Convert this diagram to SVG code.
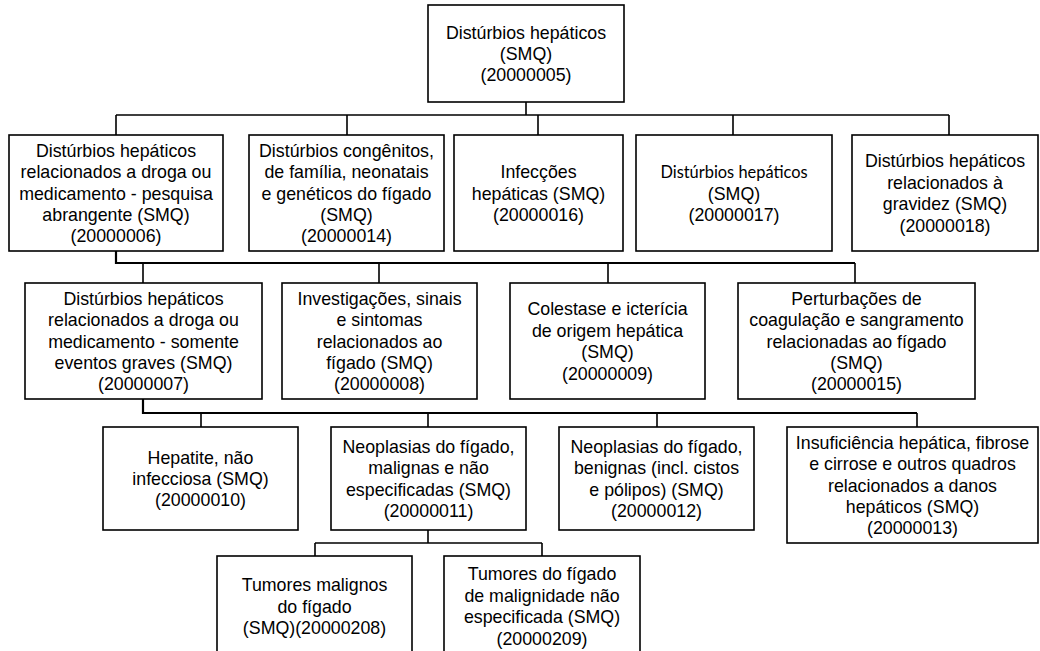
<svg xmlns="http://www.w3.org/2000/svg" width="1040" height="651" viewBox="0 0 1040 651">
  <style>
    .box { fill: #fff; stroke: #000; stroke-width: 1.6; }
    .lbl { font-family: "Liberation Sans", Arial, sans-serif; font-size: 17.8px; fill: #000; text-anchor: middle; }
    .alt { font-family: Lato, "Open Sans", sans-serif; font-size: 16.4px; }
    .wire { fill: none; stroke: #000; stroke-width: 1.6; }
    .trunk { fill: none; stroke: #000; stroke-width: 2.2; }
  </style>
  <rect width="1040" height="651" fill="#fff"/>

  <!-- connectors -->
  <g id="connectors">
    <path class="wire" d="M526 102V115M116 115H949M116 115V135M347 115V135M538 115V135M733 115V135M949 115V135"/>
    <path class="trunk" d="M116 251V263H855"/>
    <path class="wire" d="M143 263V283M379 263V283M608 263V283M855 263V283"/>
    <path class="trunk" d="M143 399V413H917"/>
    <path class="wire" d="M201 413V427M428 413V427M657 413V427M917 413V427"/>
    <path class="wire" d="M428 530V543M315 543H542M315 543V556M542 543V556"/>
  </g>

  <!-- root -->
  <g id="n20000005">
    <rect class="box" x="428" y="5" width="196" height="97"/>
    <text class="lbl"><tspan x="526" y="38.6">Distúrbios hepáticos</tspan><tspan x="526" y="60">(SMQ)</tspan><tspan x="526" y="81.4">(20000005)</tspan></text>
  </g>

  <!-- first level -->
  <g id="n20000006">
    <rect class="box" x="9" y="135" width="214" height="116"/>
    <text class="lbl"><tspan x="116" y="156.7">Distúrbios hepáticos</tspan><tspan x="116" y="178.1">relacionados a droga ou</tspan><tspan x="116" y="199.5">medicamento - pesquisa</tspan><tspan x="116" y="220.9">abrangente (SMQ)</tspan><tspan x="116" y="242.3">(20000006)</tspan></text>
  </g>
  <g id="n20000014">
    <rect class="box" x="249" y="135" width="195" height="116"/>
    <text class="lbl"><tspan x="346.5" y="156.7">Distúrbios congênitos,</tspan><tspan x="346.5" y="178.1">de família, neonatais</tspan><tspan x="346.5" y="199.5">e genéticos do fígado</tspan><tspan x="346.5" y="220.9">(SMQ)</tspan><tspan x="346.5" y="242.3">(20000014)</tspan></text>
  </g>
  <g id="n20000016">
    <rect class="box" x="454" y="135" width="169" height="116"/>
    <text class="lbl"><tspan x="538.5" y="178.1">Infecções</tspan><tspan x="538.5" y="199.5">hepáticas (SMQ)</tspan><tspan x="538.5" y="220.9">(20000016)</tspan></text>
  </g>
  <g id="n20000017">
    <rect class="box" x="636" y="135" width="196" height="116"/>
    <text class="lbl"><tspan class="alt" x="734" y="178.1">Distúrbios hepáticos</tspan><tspan x="734" y="199.5">(SMQ)</tspan><tspan x="734" y="220.9">(20000017)</tspan></text>
  </g>
  <g id="n20000018">
    <rect class="box" x="852" y="135" width="186" height="116"/>
    <text class="lbl"><tspan x="945" y="167.4">Distúrbios hepáticos</tspan><tspan x="945" y="188.8">relacionados à</tspan><tspan x="945" y="210.2">gravidez (SMQ)</tspan><tspan x="945" y="231.6">(20000018)</tspan></text>
  </g>

  <!-- second level -->
  <g id="n20000007">
    <rect class="box" x="25" y="283" width="237" height="116"/>
    <text class="lbl"><tspan x="143.5" y="304.7">Distúrbios hepáticos</tspan><tspan x="143.5" y="326.1">relacionados a droga ou</tspan><tspan x="143.5" y="347.5">medicamento - somente</tspan><tspan x="143.5" y="368.9">eventos graves (SMQ)</tspan><tspan x="143.5" y="390.3">(20000007)</tspan></text>
  </g>
  <g id="n20000008">
    <rect class="box" x="282" y="283" width="195" height="116"/>
    <text class="lbl"><tspan x="379.5" y="304.7">Investigações, sinais</tspan><tspan x="379.5" y="326.1">e sintomas</tspan><tspan x="379.5" y="347.5">relacionados ao</tspan><tspan x="379.5" y="368.9">fígado (SMQ)</tspan><tspan x="379.5" y="390.3">(20000008)</tspan></text>
  </g>
  <g id="n20000009">
    <rect class="box" x="510" y="283" width="195" height="116"/>
    <text class="lbl"><tspan x="607.5" y="315.4">Colestase e icterícia</tspan><tspan x="607.5" y="336.8">de origem hepática</tspan><tspan x="607.5" y="358.2">(SMQ)</tspan><tspan x="607.5" y="379.6">(20000009)</tspan></text>
  </g>
  <g id="n20000015">
    <rect class="box" x="738" y="283" width="237" height="116"/>
    <text class="lbl"><tspan x="856.5" y="304.7">Perturbações de</tspan><tspan x="856.5" y="326.1">coagulação e sangramento</tspan><tspan x="856.5" y="347.5">relacionadas ao fígado</tspan><tspan x="856.5" y="368.9">(SMQ)</tspan><tspan x="856.5" y="390.3">(20000015)</tspan></text>
  </g>

  <!-- third level -->
  <g id="n20000010">
    <rect class="box" x="103" y="427" width="195" height="103"/>
    <text class="lbl"><tspan x="200.5" y="463.6">Hepatite, não</tspan><tspan x="200.5" y="485">infecciosa (SMQ)</tspan><tspan x="200.5" y="506.4">(20000010)</tspan></text>
  </g>
  <g id="n20000011">
    <rect class="box" x="331" y="427" width="195" height="103"/>
    <text class="lbl"><tspan x="428.5" y="452.9">Neoplasias do fígado,</tspan><tspan x="428.5" y="474.3">malignas e não</tspan><tspan x="428.5" y="495.7">especificadas (SMQ)</tspan><tspan x="428.5" y="517.1">(20000011)</tspan></text>
  </g>
  <g id="n20000012">
    <rect class="box" x="559" y="427" width="195" height="103"/>
    <text class="lbl"><tspan x="656.5" y="452.9">Neoplasias do fígado,</tspan><tspan x="656.5" y="474.3">benignas (incl. cistos</tspan><tspan x="656.5" y="495.7">e pólipos) (SMQ)</tspan><tspan x="656.5" y="517.1">(20000012)</tspan></text>
  </g>
  <g id="n20000013">
    <rect class="box" x="787" y="427" width="251" height="116"/>
    <text class="lbl"><tspan x="912.5" y="448.7">Insuficiência hepática, fibrose</tspan><tspan x="912.5" y="470.1">e cirrose e outros quadros</tspan><tspan x="912.5" y="491.5">relacionados a danos</tspan><tspan x="912.5" y="512.9">hepáticos (SMQ)</tspan><tspan x="912.5" y="534.3">(20000013)</tspan></text>
  </g>

  <!-- fourth level -->
  <g id="n20000208">
    <rect class="box" x="217" y="556" width="195" height="100"/>
    <text class="lbl"><tspan x="314.5" y="591.1">Tumores malignos</tspan><tspan x="314.5" y="612.5">do fígado</tspan><tspan x="314.5" y="633.9">(SMQ)(20000208)</tspan></text>
  </g>
  <g id="n20000209">
    <rect class="box" x="444" y="556" width="196" height="100"/>
    <text class="lbl"><tspan x="542" y="580.4">Tumores do fígado</tspan><tspan x="542" y="601.8">de malignidade não</tspan><tspan x="542" y="623.2">especificada (SMQ)</tspan><tspan x="542" y="644.6">(20000209)</tspan></text>
  </g>
</svg>
